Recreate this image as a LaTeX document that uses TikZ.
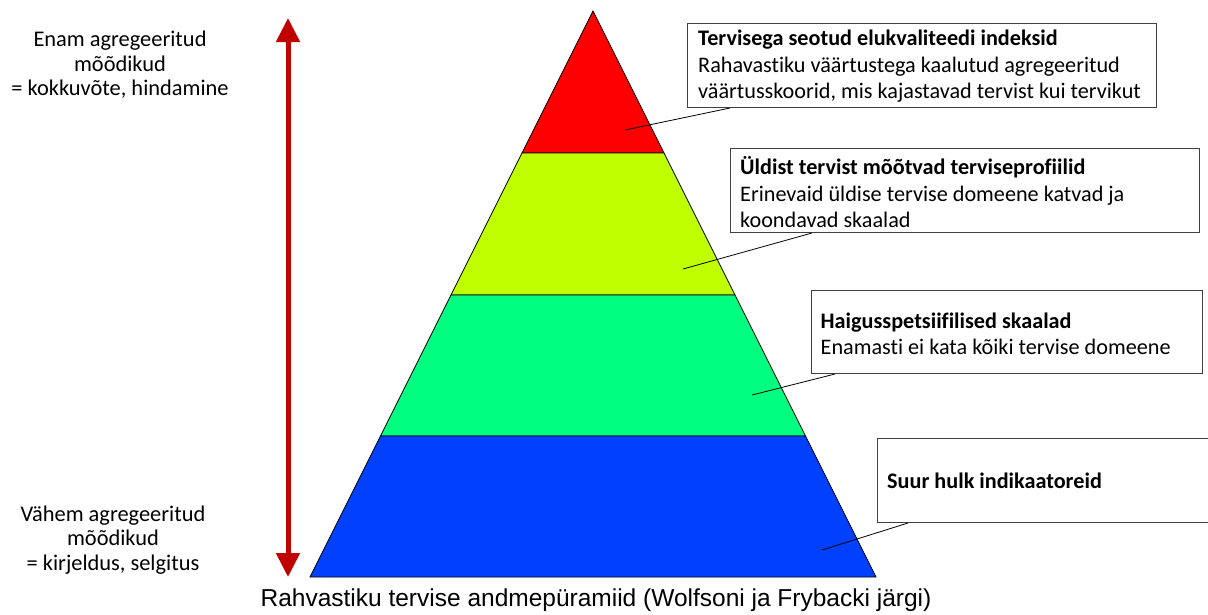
\documentclass[tikz,border=0pt]{standalone}
\usepackage{fontspec}
\setmainfont{Carlito}[Ligatures=NoCommon]
\newfontfamily\arialf{Liberation Sans}
\usetikzlibrary{calc,arrows.meta}
\definecolor{cRed}{HTML}{FF0000}
\definecolor{cLime}{HTML}{BFFF00}
\definecolor{cGreen}{HTML}{00FF80}
\definecolor{cBlue}{HTML}{0040FF}
\definecolor{cArrow}{HTML}{C00000}
\definecolor{cBoxLine}{HTML}{404040}
\begin{document}
\begin{tikzpicture}[x=1pt,y=-1pt,
  band/.style={draw=black,line width=0.8pt},
  infobox/.style={draw=cBoxLine,line width=1pt,fill=white,anchor=north west,inner sep=0pt},
  infotext/.style={anchor=west,align=left,inner sep=0pt,font=\fontsize{22.2}{26.5}\selectfont},
  sidetext/.style={align=center,font=\fontsize{22.4}{24.5}\selectfont},
  leader/.style={draw=black,line width=0.8pt}]
\useasboundingbox (0,0) rectangle (1208,614);
% pyramid coordinates
\coordinate (A) at (593,11);
\coordinate (L1) at (522,153);   \coordinate (R1) at (664,153);
\coordinate (L2) at (451,295);   \coordinate (R2) at (735,295);
\coordinate (L3) at (380.5,436); \coordinate (R3) at (805.5,436);
\coordinate (L4) at (310,577);   \coordinate (R4) at (876,577);
\filldraw[band,fill=cRed] (A) -- (R1) -- (L1) -- cycle;
\filldraw[band,fill=cLime] (L1) -- (R1) -- (R2) -- (L2) -- cycle;
\filldraw[band,fill=cGreen] (L2) -- (R2) -- (R3) -- (L3) -- cycle;
\filldraw[band,fill=cBlue] (L3) -- (R3) -- (R4) -- (L4) -- cycle;
% arrow
\coordinate (arrTop) at (288,18);
\coordinate (arrBot) at (288,577);
\draw[cArrow,line width=5pt,{Triangle[length=24pt,width=23pt]}-{Triangle[length=24pt,width=23pt]}] (arrTop) -- (arrBot);
% side texts
\node[sidetext] (topT) at (120,65) {Enam agregeeritud\\mõõdikud\\= kokkuvõte, hindamine};
\node[sidetext] (botT) at (113,540) {Vähem agregeeritud\\mõõdikud\\= kirjeldus, selgitus};
% boxes
\node[infobox,minimum width=469pt,minimum height=84pt] (b1) at (687,23) {};
\node[infotext] (t1) at ($(b1.west)+(11,1)$)
  {\textbf{Tervisega seotud elukvaliteedi indeksid}\\Rahavastiku väärtustega kaalutud agregeeritud\\väärtusskoorid, mis kajastavad tervist kui tervikut};
\node[infobox,minimum width=469pt,minimum height=84pt] (b2) at (730,148) {};
\node[infotext] (t2) at ($(b2.west)+(10,2)$)
  {\textbf{Üldist tervist mõõtvad terviseprofiilid}\\Erinevaid üldise tervise domeene katvad ja\\koondavad skaalad};
\node[infobox,minimum width=391pt,minimum height=83pt] (b3) at (811,290) {};
\node[infotext] (t3) at ($(b3.west)+(9.5,2)$)
  {\textbf{Haigusspetsiifilised skaalad}\\Enamasti ei kata kõiki tervise domeene};
\node[infobox,minimum width=340pt,minimum height=84pt] (b4) at (877,438) {};
\node[infotext] (t4) at ($(b4.west)+(10,0)$) {\textbf{Suur hulk indikaatoreid}};
% leader lines
\coordinate (p1) at (625,130);
\coordinate (p2) at (683,269);
\coordinate (p3) at (752,395);
\coordinate (p4) at (822,550);
\draw[leader] ($(b1.south west)+(43,0)$) -- (p1);
\draw[leader] ($(b2.south west)+(82,0)$) -- (p2);
\draw[leader] ($(b3.south west)+(24,0)$) -- (p3);
\draw[leader] ($(b4.south west)+(31,0)$) -- (p4);
% title
\node[font=\arialf\fontsize{24.5}{28}\selectfont] (title) at (596,600) {Rahvastiku tervise andmepüramiid (Wolfsoni ja Frybacki järgi)};
\end{tikzpicture}
\end{document}
